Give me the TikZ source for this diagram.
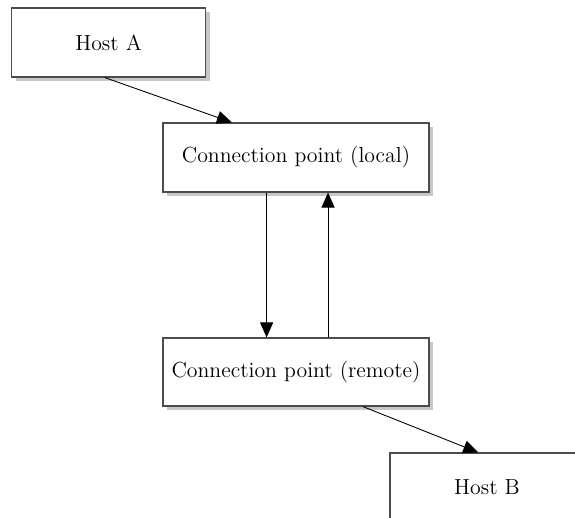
\documentclass[tikz,border=0pt]{standalone}
\usetikzlibrary{positioning,arrows.meta,calc,shadows}

\begin{document}
\begin{tikzpicture}[
  every node/.style={font=\fontsize{12.4}{15}\selectfont, align=center},
  netbox/.style={draw=black!70, line width=0.6pt, fill=white, minimum width=3.88cm, minimum height=1.38cm,
    drop shadow={shadow xshift=0.08cm, shadow yshift=-0.08cm, fill=black!22, opacity=1}},
  link/.style={-{Triangle[length=0.3cm, width=0.26cm]}, line width=0.5pt}]
  \useasboundingbox (0,0) rectangle (11.5,-10.34);
  \clip (0,0) rectangle (11.5,-10.34);
  \node[netbox] (hosta) at (2.17,-0.85) {Host A};
  \node[netbox, minimum width=5.32cm] (local) at (5.92,-3.15) {Connection point (local)};
  \node[netbox, minimum width=5.32cm, minimum height=1.36cm] (remote) at (5.92,-7.44) {Connection point (remote)};
  \node[netbox] (hostb) at (9.74,-9.75) {Host B};
  \draw[link] ($(hosta.south west)!0.48!(hosta.south east)$) -- ($(local.north west)!0.26!(local.north east)$);
  \draw[link] ($(local.south west)!0.39!(local.south east)$) -- ($(remote.north west)!0.39!(remote.north east)$);
  \draw[link] ($(remote.north west)!0.62!(remote.north east)$) -- ($(local.south west)!0.62!(local.south east)$);
  \draw[link] ($(remote.south west)!0.75!(remote.south east)$) -- ($(hostb.north west)!0.455!(hostb.north east)$);
\end{tikzpicture}
\end{document}
